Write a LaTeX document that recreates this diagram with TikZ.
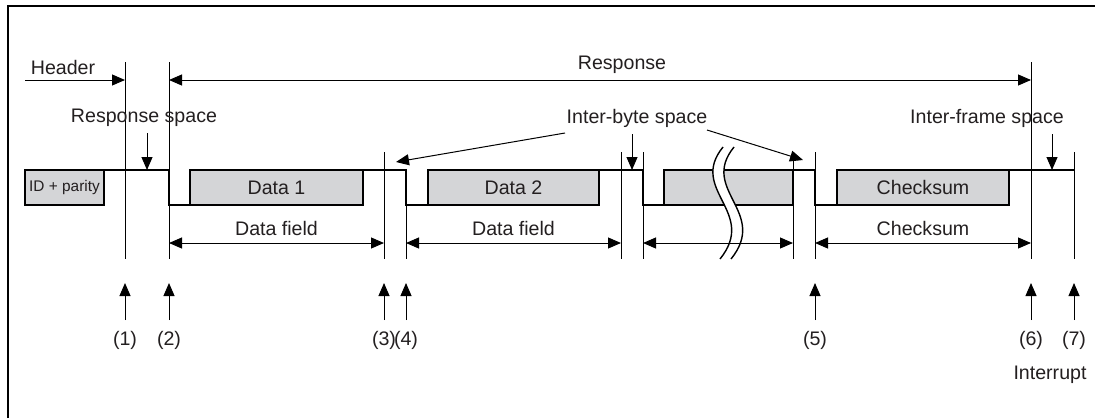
\documentclass[tikz,border=0pt]{standalone}
\usepackage{fontspec}
\setmainfont{Liberation Sans}
\usetikzlibrary{arrows.meta}
\definecolor{Field}{RGB}{212,213,215}
\definecolor{Ink}{RGB}{35,31,32}

\begin{document}
\begin{tikzpicture}[x=0.5pt,y=-0.5pt,
    every node/.style={text=Ink,font=\fontsize{9.8}{11}\selectfont},
    sig/.style={line width=0.8pt},
    guide/.style={line width=0.5pt},
    ptr/.style={line width=0.5pt,-{Triangle[length=6.5pt,width=5.5pt]}},
    dim/.style={line width=0.5pt,{Triangle[length=6.5pt,width=5.5pt]}-{Triangle[length=6.5pt,width=5.5pt]}},
    field/.style={draw,fill=Field,line width=0.8pt,inner sep=0pt,outer sep=0pt,minimum height=17.5pt}]
        \useasboundingbox (0,0) rectangle (1095,418);
        \draw[line width=1.2pt] (8,418) -- (8,6) -- (1095,6);
        \foreach \x/\top in {125/62,169/62,384/152,406/170,621/152,643/152,793/152,815/152,1031/62,1074/152} {
          \draw[guide] (\x,\top) -- (\x,259);
        }
        \node[field,minimum width=39.5pt,font=\fontsize{7.7}{9}\selectfont] (idp) at (64.5,187.5) {ID + parity};
        \node[field,minimum width=86.5pt] (data1) at (276.5,187.5) {Data 1};
        \node[field,minimum width=85.5pt] (data2) at (513.5,187.5) {Data 2};
        \node[field,minimum width=64.5pt] (datan) at (728.5,187.5) {};
        \node[field,minimum width=86pt] (csum) at (923,187.5) {Checksum};
        \draw[sig] (idp.north east) -- (169,170) -- (169,205) -- (data1.south west);
        \draw[sig] (data1.north east) -- (406,170) -- (406,205) -- (data2.south west);
        \draw[sig] (data2.north east) -- (643,170) -- (643,205) -- (datan.south west);
        \draw[sig] (datan.north east) -- (815,170) -- (815,205) -- (csum.south west);
        \draw[sig] (csum.north east) -- (1074,170);
        \fill[white] (723,147) .. controls (688,190) and (758,212) .. (720,259)
          -- (731,259) .. controls (769,212) and (699,190) .. (734,147) -- cycle;
        \draw[guide,line width=0.7pt] (723,147) .. controls (688,190) and (758,212) .. (720,259);
        \draw[guide,line width=0.7pt] (734,147) .. controls (699,190) and (769,212) .. (731,259);
        \node (hdr) at (63,67) {Header};
        \draw[ptr] (25,80) -- (125,80);
        \node (resp) at (622,65) {Response};
        \draw[dim] (169,80) -- (1031,80);
        \node (rsp) at (144,118) {Response space};
        \draw[ptr] (147,133) -- (147,170);
        \node (ibs) at (637,118) {Inter-byte space};
        \draw[ptr] (565,133) -- (396,162);
        \draw[ptr] (632,134) -- (632,170);
        \draw[ptr] (707,130) -- (803,160);
        \node (ifs) at (987,118) {Inter-frame space};
        \draw[ptr] (1052,134) -- (1052,170);
        \draw[dim] (169,243) -- node[above] (df1) {Data field} (384,243);
        \draw[dim] (406,243) -- node[above] (df2) {Data field} (621,243);
        \draw[dim] (643,243) -- (793,243);
        \draw[dim] (815,243) -- node[above] (cs) {Checksum} (1031,243);
        \foreach \x/\lab in {125/1,169/2,384/3,406/4,815/5,1031/6,1074/7} {
          \draw[ptr] (\x,320) -- (\x,283);
          \node (pt\lab) at (\x,340) {(\lab)};
        }
        \node (intr) at (1050,375) {Interrupt};
      \end{tikzpicture}
\end{document}
